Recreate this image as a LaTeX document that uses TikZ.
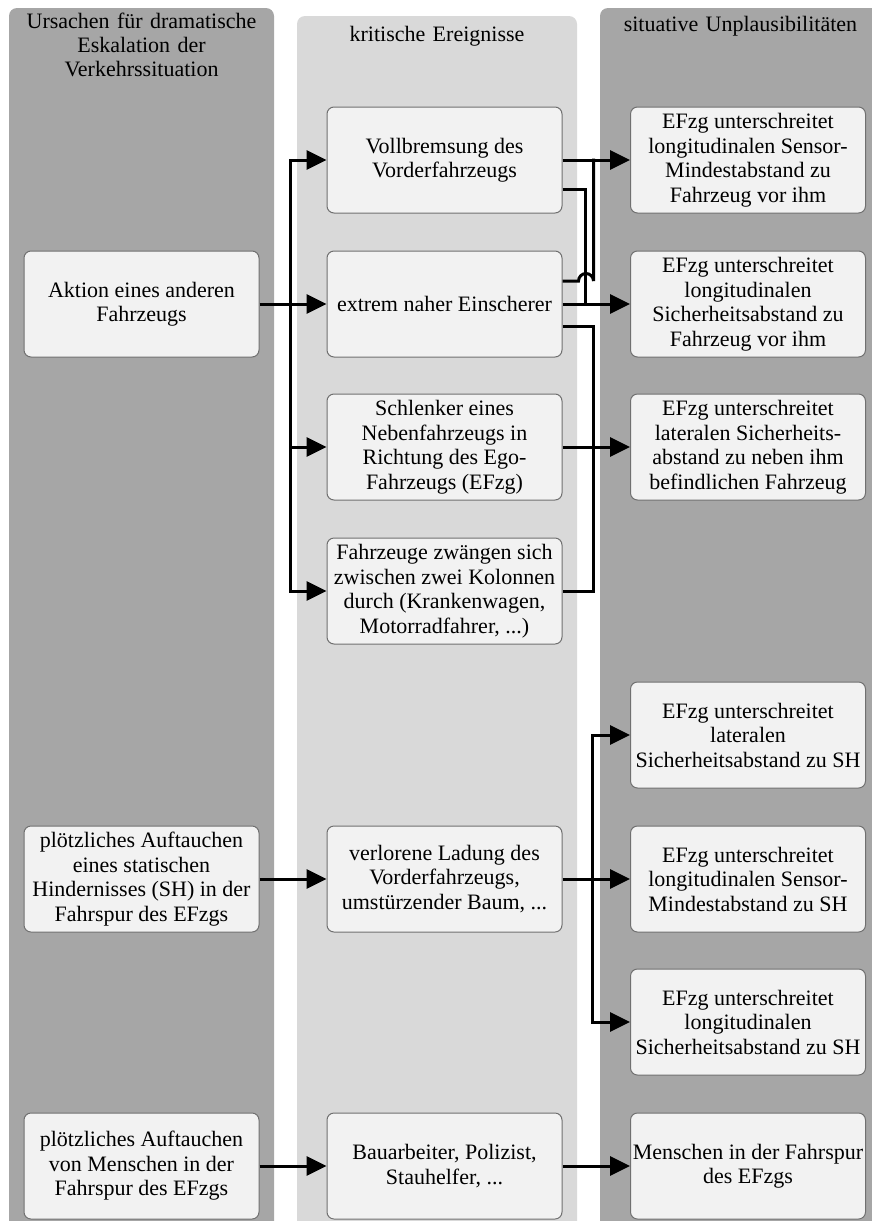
\documentclass[tikz,border=0pt]{standalone}
\usepackage{fontspec}
\setmainfont{Liberation Serif}
\usetikzlibrary{arrows.meta,calc}
\definecolor{lanedark}{HTML}{A6A6A6}
\definecolor{lanelight}{HTML}{D9D9D9}
\definecolor{boxfill}{HTML}{F2F2F2}
\definecolor{boxline}{HTML}{707070}
\tikzset{
  lane/.style={rounded corners=8pt},
  ebox/.style={draw=boxline, line width=1pt, fill=boxfill, rounded corners=7pt,
    minimum width=235pt, minimum height=106pt, inner sep=0pt, align=center,
    font=\fontsize{22}{24.5}\selectfont},
  title/.style={inner sep=0pt, align=center, text width=270pt, anchor=base,
    font=\fontsize{22}{24}\selectfont},
  conn/.style={line width=3pt},
  arr/.style={line width=3pt, -{Triangle[length=20pt,width=19pt]}}
}
\begin{document}
\begin{tikzpicture}[x=1pt,y=-1pt]
\useasboundingbox (0,0) rectangle (872,1221);
% lanes
\fill[lanedark,lane] (9,8) rectangle (274,1250);
\fill[lanelight,lane] (297,16) rectangle (577,1250);
\fill[lanedark,lane] (600,8) rectangle (885,1250);
% titles
\node[title] (t1) at (141.5,28) {Ursachen für dramatische\\Eskalation der\\Verkehrssituation};
\node[title] (t2) at (437,41) {kritische Ereignisse};
\node[title] (t3) at (740.5,31) {situative Unplausibilitäten};
% left column
\node[ebox] (akt) at (141.5,304) {Aktion eines anderen\\Fahrzeugs};
\node[ebox] (stat) at (141.5,879) {plötzliches Auftauchen\\eines statischen\\Hindernisses (SH) in der\\Fahrspur des EFzgs};
\node[ebox] (mensch) at (141.5,1166) {plötzliches Auftauchen\\von Menschen in der\\Fahrspur des EFzgs};
% middle column
\node[ebox] (voll) at (444.5,160) {Vollbremsung des\\Vorderfahrzeugs};
\node[ebox] (ext) at (444.5,304) {extrem naher Einscherer};
\node[ebox] (schl) at (444.5,447) {Schlenker eines\\Nebenfahrzeugs in\\Richtung des Ego-\\Fahrzeugs (EFzg)};
\node[ebox] (fahr) at (444.5,591) {Fahrzeuge zwängen sich\\zwischen zwei Kolonnen\\durch (Krankenwagen,\\Motorradfahrer, ...)};
\node[ebox] (verl) at (444.5,879) {verlorene Ladung des\\Vorderfahrzeugs,\\umstürzender Baum, ...};
\node[ebox] (bau) at (444.5,1166) {Bauarbeiter, Polizist,\\Stauhelfer, ...};
% right column
\node[ebox] (r1) at (748,160) {EFzg unterschreitet\\longitudinalen Sensor-\\Mindestabstand zu\\Fahrzeug vor ihm};
\node[ebox] (r2) at (748,304) {EFzg unterschreitet\\longitudinalen\\Sicherheitsabstand zu\\Fahrzeug vor ihm};
\node[ebox] (r3) at (748,447) {EFzg unterschreitet\\lateralen Sicherheits-\\abstand zu neben ihm\\befindlichen Fahrzeug};
\node[ebox] (r4) at (748,735) {EFzg unterschreitet\\lateralen\\Sicherheitsabstand zu SH};
\node[ebox] (r5) at (748,879) {EFzg unterschreitet\\longitudinalen Sensor-\\Mindestabstand zu SH};
\node[ebox] (r6) at (748,1022) {EFzg unterschreitet\\longitudinalen\\Sicherheitsabstand zu SH};
\node[ebox] (r7) at (748,1166) {Menschen in der Fahrspur\\des EFzgs};
% connectors: Aktion
\draw[arr] (akt.east) -- (ext.west);
\draw[arr] ($(akt.east)+(31,0)$) |- (voll.west);
\draw[arr] ($(akt.east)+(31,0)$) |- (schl.west);
\draw[arr] ($(akt.east)+(31,0)$) |- (fahr.west);
% middle to right (upper)
\draw[arr] (voll.east) -- (r1.west);
\draw[arr] (ext.east) -- (r2.west);
\draw[arr] (schl.east) -- (r3.west);
\draw[conn] ($(voll.east)+(0,29)$) -| ($(ext.east)+(23,0)$);
\draw[conn] ($(ext.east)+(0,-23)$) -- ++(16,0)
  arc[start angle=180,end angle=0,radius=7.5pt] -- ($(voll.east)+(31,-1.5)$);
\draw[conn] ($(ext.east)+(0,22)$) -| ($(fahr.east)+(31,0)$) -- (fahr.east);
% static obstacle
\draw[arr] (stat.east) -- (verl.west);
\draw[arr] (verl.east) -- (r5.west);
\draw[arr] ($(verl.east)+(30,0)$) |- (r4.west);
\draw[arr] ($(verl.east)+(30,0)$) |- (r6.west);
% humans
\draw[arr] (mensch.east) -- (bau.west);
\draw[arr] (bau.east) -- (r7.west);
\end{tikzpicture}
\end{document}
